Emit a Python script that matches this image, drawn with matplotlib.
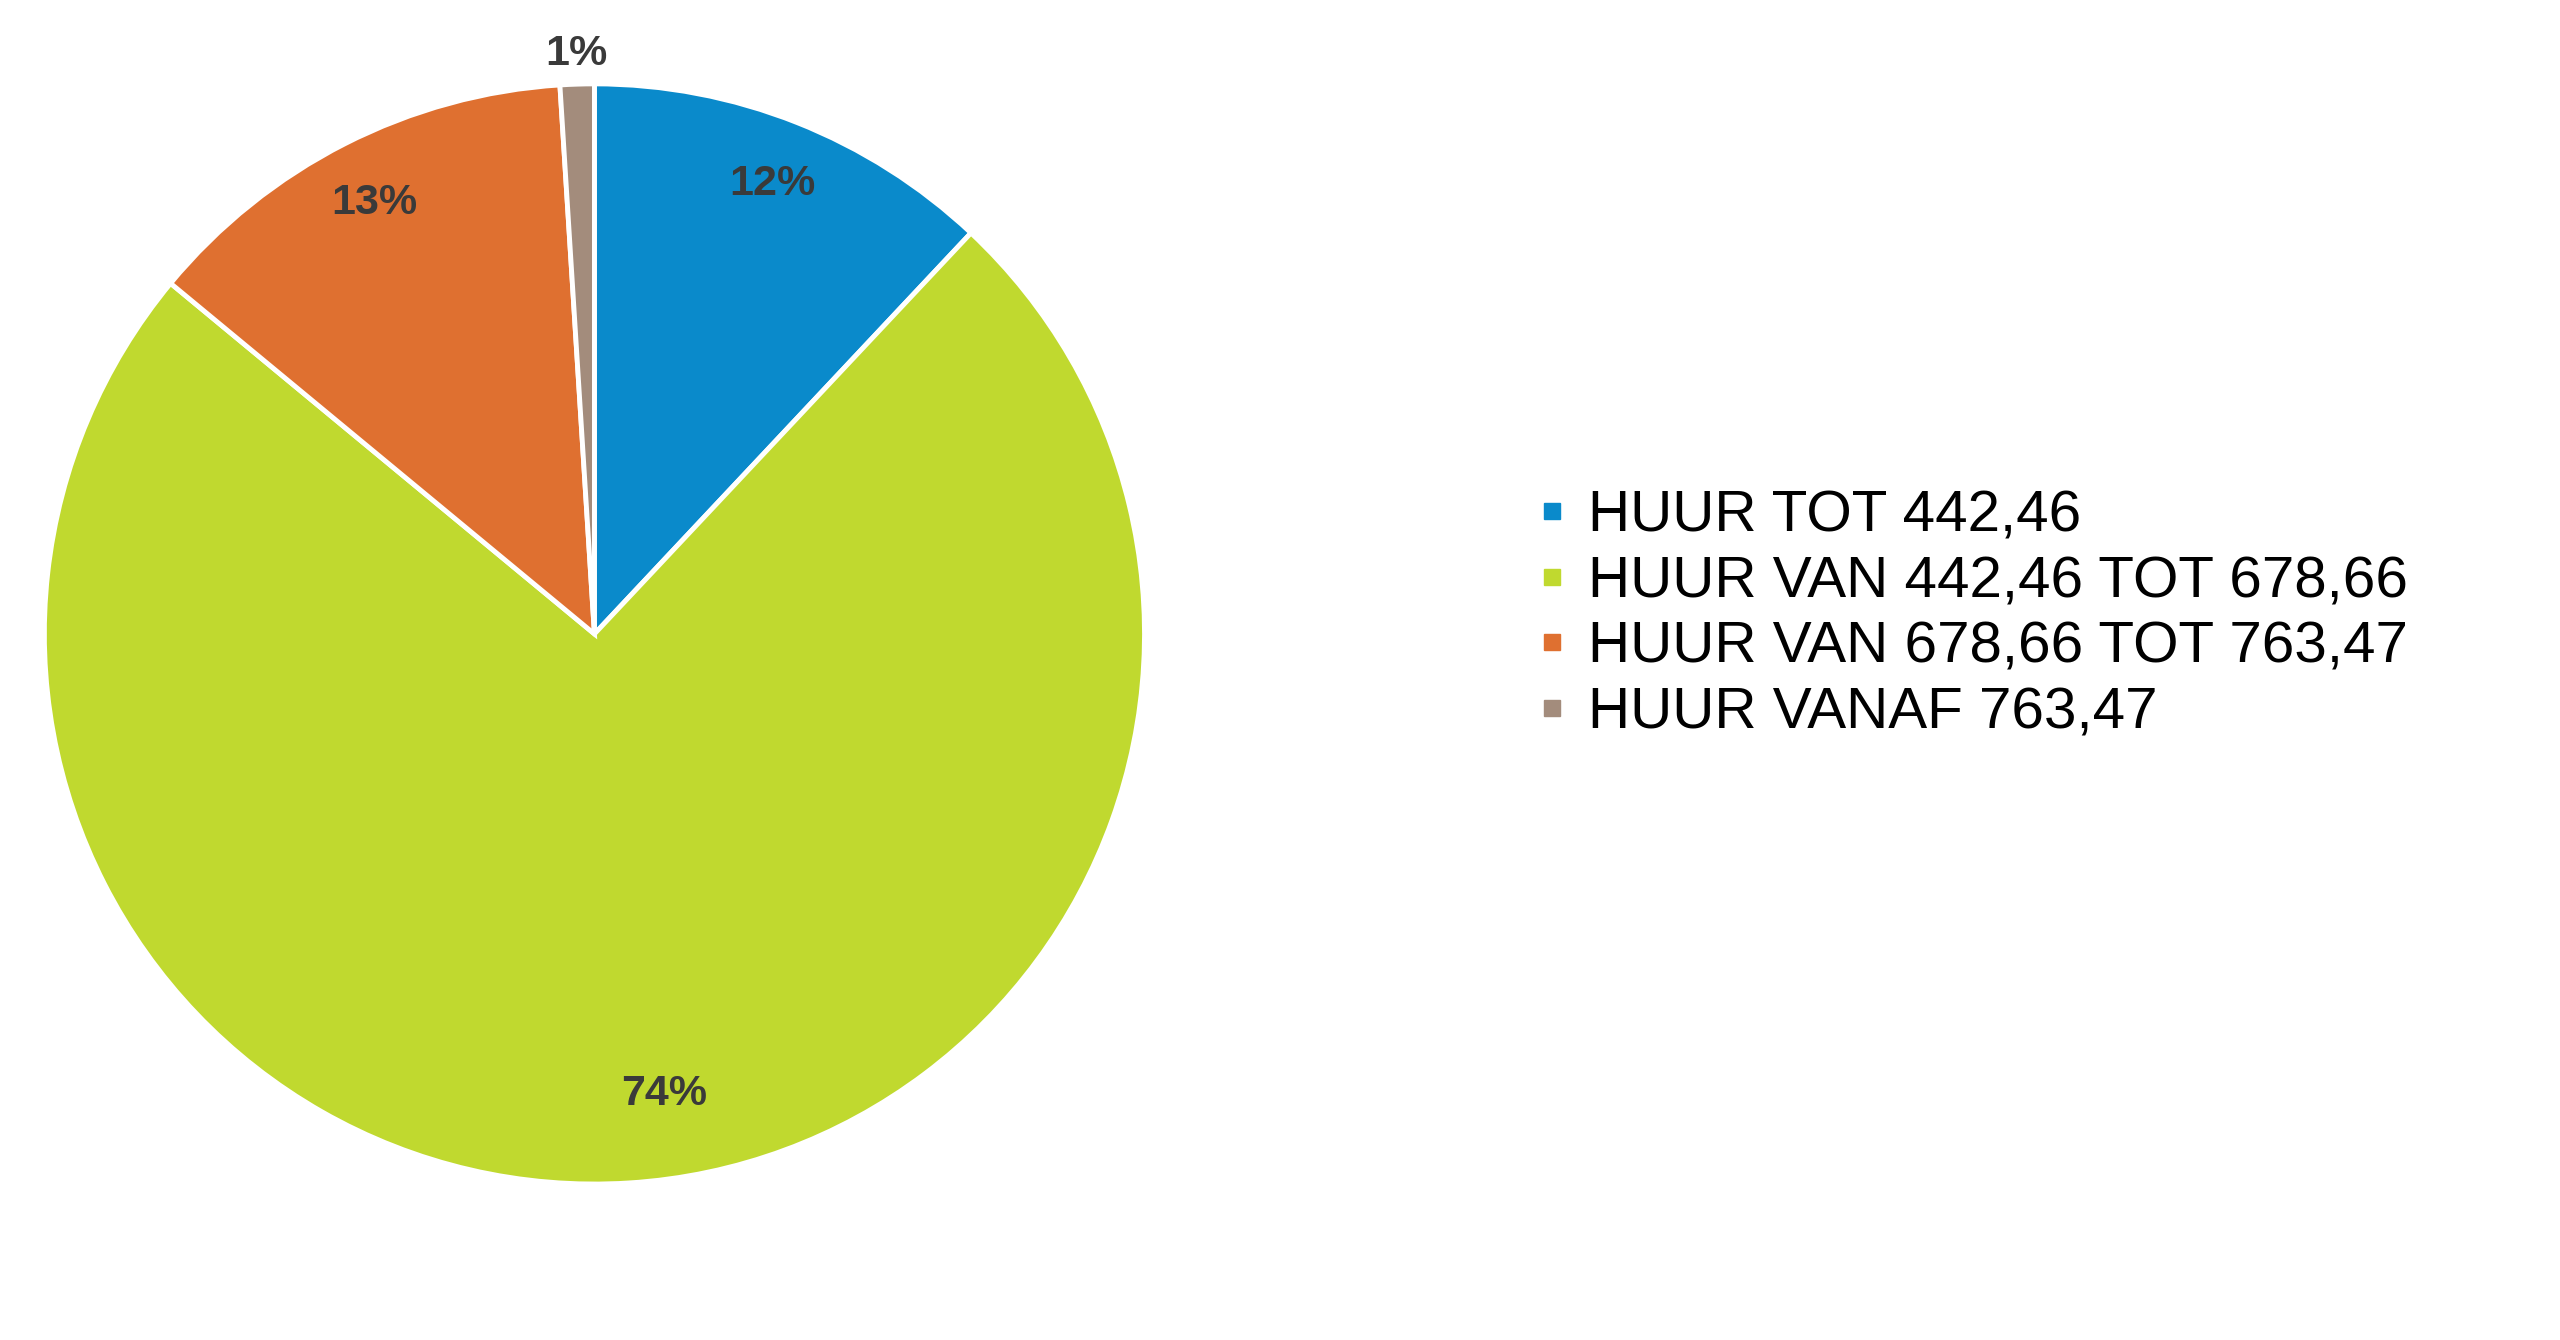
import numpy as np
import matplotlib
matplotlib.use("Agg")
import matplotlib.pyplot as plt
from matplotlib.lines import Line2D

plt.rcParams['font.family'] = ['Liberation Sans', 'DejaVu Sans']

# data
categories = ['HUUR TOT 442,46', 'HUUR VAN 442,46 TOT 678,66',
              'HUUR VAN 678,66 TOT 763,47', 'HUUR VANAF 763,47']
shares = [12, 74, 13, 1]
colors = ['#0A8ACB', '#C0D92F', '#DF7030', '#A38C7C']

fig = plt.figure(figsize=(25.6, 13.4), dpi=100)
fig.patch.set_facecolor('white')

ax = fig.add_axes([0.0172, 0.1164, 0.430, 0.821])
wedges, texts, autotexts = ax.pie(
    shares, colors=colors, startangle=90, counterclock=False,
    autopct='%1.0f%%', pctdistance=0.88,
    wedgeprops=dict(edgecolor='white', linewidth=3.5),
    textprops=dict(fontsize=31, fontweight='bold', color='#3a3a3a'))
ax.set_xlim(-1, 1)
ax.set_ylim(-1, 1)
ax.set_aspect('equal')

# the tiny slice gets its label just outside the pie
w = wedges[3]
ang = np.deg2rad((w.theta1 + w.theta2) / 2)
autotexts[3].set_position((1.055 * np.cos(ang), 1.055 * np.sin(ang)))
# the large slice label sits a bit more to the right in the original
w = wedges[1]
ang = np.deg2rad((w.theta1 + w.theta2) / 2 + 5)
autotexts[1].set_position((0.845 * np.cos(ang), 0.845 * np.sin(ang)))

handles = [Line2D([], [], marker='s', linestyle='none', markersize=11,
                  markerfacecolor=c, markeredgecolor=c) for c in colors]
fig.legend(handles, categories, loc='center left',
           bbox_to_anchor=(0.588, 0.541), frameon=False,
           fontsize=42, handlelength=0.6, handletextpad=0.32,
           labelspacing=0.2, borderpad=0)

fig.savefig('out.png', dpi=100)
